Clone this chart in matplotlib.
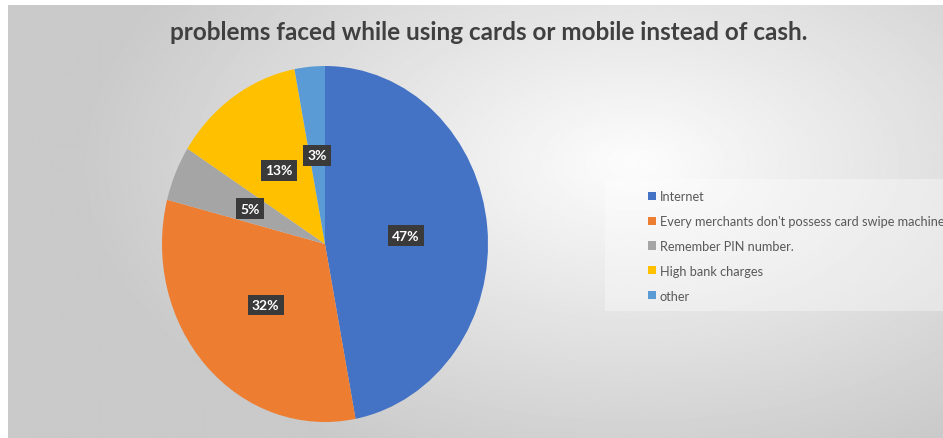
import numpy as np
import matplotlib.pyplot as plt
from matplotlib.patches import Rectangle

labels = ['Internet', "Every merchants don't possess card swipe machine",
          'Remember PIN number.', 'High bank charges', 'other']
shares = [47, 32, 5, 13, 3]
colors = ['#4472c4', '#ed7d31', '#a5a5a5', '#ffc000', '#5b9bd5']
title = 'problems faced while using cards or mobile instead of cash.'

W, H = 943, 439
fig = plt.figure(figsize=(W / 100, H / 100), dpi=100, facecolor='white')

# soft radial gray background
bg = fig.add_axes([8 / W, 0, 1 - 8 / W, 1 - 6 / H])
bg.axis('off')
yy, xx = np.mgrid[0:H, 0:W]
d = np.sqrt(((xx - 630) / 560.0) ** 2 + ((yy - 160) / 330.0) ** 2)
shade = np.clip(0.99 - 0.20 * d, 0.79, 0.99)
bg.imshow(shade, cmap='gray', vmin=0, vmax=1, aspect='auto',
          extent=[0, 1, 0, 1], interpolation='bilinear')
bg.set_xlim(0, 1)
bg.set_ylim(0, 1)

# legend backdrop
fig.patches.append(Rectangle((605 / W, 1 - 312 / H), (W - 605) / W, 132 / H,
                             transform=fig.transFigure, facecolor='white',
                             alpha=0.35, edgecolor='none'))

fig.text(489 / W, 1 - 33 / H, title, ha='center', va='center',
         fontsize=17.5, fontweight='bold', family='Lato', color='#404040')

ax = fig.add_axes([162 / W, 16 / H, 326 / W, 356 / H])
wedges, texts, autotexts = ax.pie(
    shares, colors=colors, startangle=90, counterclock=False,
    autopct='%d%%', pctdistance=0.5,
    wedgeprops=dict(linewidth=0),
    textprops=dict(color='white', fontsize=10, fontweight='bold', family='Lato'))
for t in autotexts:
    t.set_bbox(dict(boxstyle='square,pad=0.3', facecolor='#3a3a3a',
                    edgecolor='none'))
ax.set_aspect('auto')
ax.set_xlim(-1, 1)
ax.set_ylim(-1, 1)

fig.legend(wedges, labels, loc='center left',
           bbox_to_anchor=(648 / W, 1 - 247 / H), frameon=False,
           prop=dict(family='Lato', size=9.2), labelcolor='#595959',
           handlelength=0.6, handleheight=0.6, handletextpad=0.3,
           labelspacing=1.0, borderpad=0, borderaxespad=0)

fig.savefig('out.png', dpi=100)
